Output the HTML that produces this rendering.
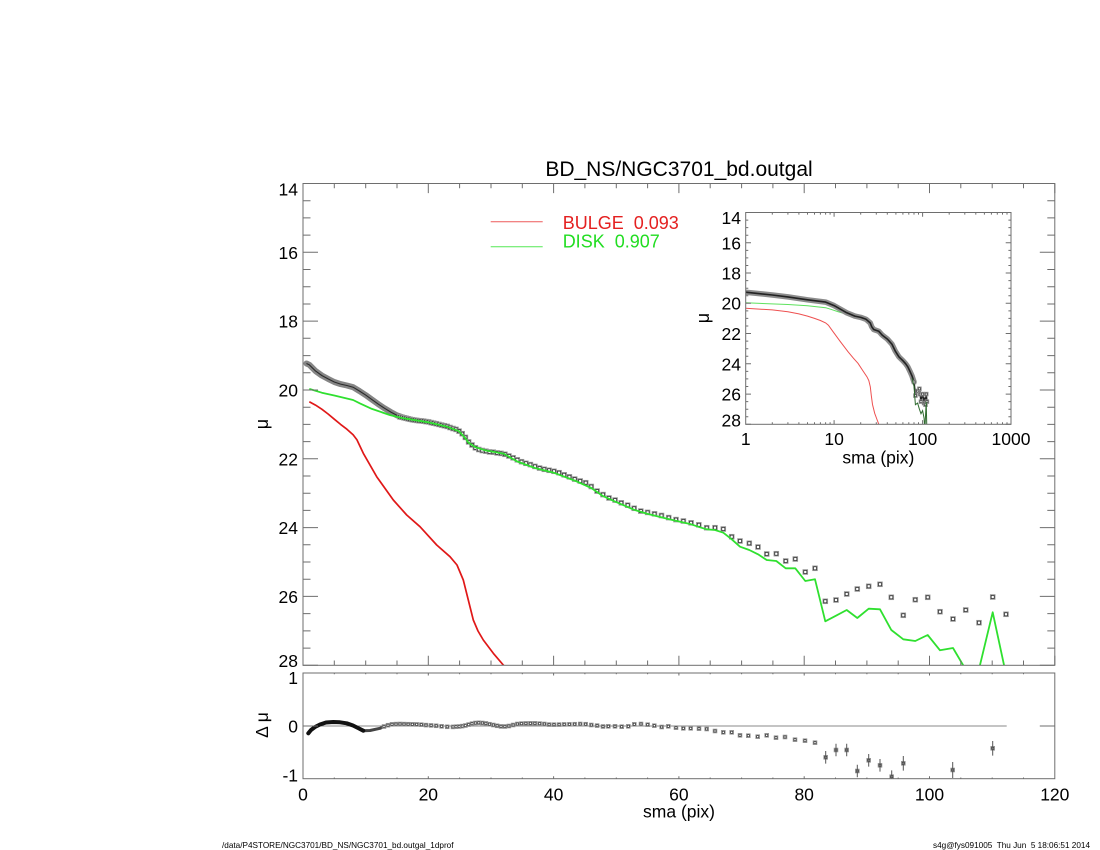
<!DOCTYPE html>
<html><head><meta charset="utf-8"><style>
html,body{margin:0;padding:0;background:#fff;}
svg{display:block;}
text{font-family:"Liberation Sans",Arial,sans-serif;fill:#000;}
</style></head><body>
<svg width="1100" height="850" viewBox="0 0 1100 850" xmlns="http://www.w3.org/2000/svg">
<defs>
<clipPath id="cm"><rect x="303" y="183.5" width="751.8" height="481.8"/></clipPath>
<clipPath id="ci"><rect x="745.7" y="212.5" width="265.3" height="211.8"/></clipPath>
<clipPath id="cr"><rect x="303" y="673" width="751.8" height="105.7"/></clipPath>
<marker id="sq" markerWidth="8" markerHeight="8" refX="4" refY="4" markerUnits="userSpaceOnUse" overflow="visible">
<rect x="1.25" y="1.25" width="5.5" height="5.5" fill="#969696"/>
<rect x="2.5" y="2.5" width="3" height="3" fill="#fff" stroke="#2a2a2a" stroke-width="0.7"/>
</marker>
<marker id="sqs" markerWidth="8" markerHeight="8" refX="4" refY="4" markerUnits="userSpaceOnUse" overflow="visible">
<rect x="1.75" y="1.75" width="4.5" height="4.5" fill="#8e8e8e"/>
<rect x="3" y="3" width="2" height="2" fill="#fff" stroke="#333" stroke-width="0.6"/>
</marker>
</defs>
<rect width="1100" height="850" fill="#fff"/>

<!-- Title -->
<text x="679" y="176" font-size="21" text-anchor="middle">BD_NS/NGC3701_bd.outgal</text>

<!-- ===== MAIN PLOT ===== -->
<g clip-path="url(#cm)">
<polyline fill="none" stroke="#858585" stroke-width="6" stroke-linejoin="round" stroke-linecap="round" points="306.5,363.5 309.3,364.8 315.5,371.0 321.8,375.5 328.1,378.9 334.3,382.0 340.6,384.1 346.9,385.5 353.1,387.2 359.4,391.0 365.7,395.1 371.9,399.6 378.2,404.1 384.4,408.2 390.7,412.0 397.0,415.4 403.2,417.5 409.5,419.0"/>
<polyline fill="none" stroke="#2a2a2a" stroke-width="1.1" points="306.5,363.5 309.3,364.8 315.5,371.0 321.8,375.5 328.1,378.9 334.3,382.0 340.6,384.1 346.9,385.5 353.1,387.2 359.4,391.0 365.7,395.1 371.9,399.6 378.2,404.1 384.4,408.2 390.7,412.0 397.0,415.4 403.2,417.5 409.5,419.0"/>
<polyline fill="none" stroke="none" marker-start="url(#sq)" marker-mid="url(#sq)" marker-end="url(#sq)" points="400.0,416.9 402.0,417.3 404.0,417.8 406.0,418.3 408.1,418.8 410.1,419.3 412.3,419.7 414.5,420.1 416.7,420.4 419.0,420.7 421.3,420.9 423.7,421.2 426.0,421.6 428.6,421.9 431.1,422.6 433.6,423.2 436.2,423.7 438.9,424.4 441.6,425.1 444.3,425.7 447.2,426.4 450.0,427.5 453.0,428.5 456.0,429.4 459.1,431.2 462.2,433.7 465.4,437.4 468.6,441.9 472.0,445.0 475.4,447.8 478.8,449.5 482.3,450.5 485.9,451.2 489.5,451.9 493.3,452.2 497.1,452.9 501.0,453.4 504.9,454.3 508.9,456.0 513.1,457.8 517.3,459.8 521.5,461.7 525.9,463.3 530.4,464.6 534.9,466.4 539.6,468.1 544.3,469.3 549.1,470.3 554.0,471.3 559.1,472.7 564.2,474.8 569.4,476.8 574.7,479.1 580.2,481.0 585.7,482.7 591.3,486.5 597.1,491.1 603.0,494.6 609.0,498.0 615.1,500.1 621.3,502.8 627.7,505.2 634.2,508.3 640.8,511.1 647.6,512.4 654.5,513.8 661.5,515.5 668.7,517.6 676.0,519.6 683.4,521.0 691.1,522.8 698.8,524.8 706.7,527.7 715,527.7 723.3,529 731.7,536.7 740,541 749.3,543.3 758,547 766.7,554 776.3,553.7 785.7,561 795.3,559 805.3,572 815,568.3 825.3,601.3 836,600 846.7,594 857.3,589 868.7,586.3 880,584.3 891.3,597.3 903.3,615.3 915.3,599.7 927.7,597.3 940,611.7 953,619 965.7,610 979,622.7 992.7,597 1006,614.3"/>
<polyline fill="none" stroke="#2fe02f" stroke-width="1.8" stroke-linejoin="round" points="309.3,388.9 321.8,392.7 334.3,395.5 353.1,400.0 360.0,403.4 371.9,408.9 390.1,415.1 403.2,418.2 428.3,422.3 447.1,426.8 459.0,431.2 465.3,438.1 468.4,442.6 475.3,447.1 484.7,450.2 503.5,453.6 517.3,461.5 534.9,468.0 554.0,472.8 574.7,480.6 591.3,488.0 603.0,496.1 615.1,501.6 634.2,509.8 647.6,513.9 668.7,519.1 691.1,524.3 700,527.3 706.7,529.3 715,530 723.3,532.7 731.7,539.3 740,546.7 749.3,550 758,554.3 766.7,560 776.3,561 785.7,568.3 795.3,568.3 805.3,581 815,579.3 825.3,621.3 836,615.7 846.7,610 857.3,618 868.7,608.7 880,609.3 891.3,630 903.3,639.3 915.3,641 927.7,635 940,650.3 953,648 965.7,669.5 978.6,670.8 992.7,612.3 1006,674.3"/>
<polyline fill="none" stroke="#e01818" stroke-width="1.7" stroke-linejoin="round" points="309.3,401.7 315.5,405.1 321.8,409.2 328.1,414.0 334.3,419.2 340.6,424.4 346.9,429.2 353.1,434.7 356.9,439.8 363.3,453.3 376.7,476.7 393.3,500 406.7,515 420,526.7 436.7,545 450,556.7 457,565 463.3,580 468.3,600 473.3,620 478,631 483.3,640 493.3,653.3 503.3,665 505,667"/>
</g>
<!-- main frame & ticks -->
<g stroke="#6e6e6e" stroke-width="1" fill="none">
<rect x="303" y="183.5" width="751.8" height="481.8"/>
<path d="M303 183.5h15M303 252.3h15M303 321.1h15M303 390h15M303 458.8h15M303 527.6h15M303 596.4h15M303 665.3h15
M1054.8 183.5h-15M1054.8 252.3h-15M1054.8 321.1h-15M1054.8 390h-15M1054.8 458.8h-15M1054.8 527.6h-15M1054.8 596.4h-15M1054.8 665.3h-15
M303 200.7h7.5M303 217.9h7.5M303 235.1h7.5M303 269.5h7.5M303 286.7h7.5M303 304h7.5M303 338.3h7.5M303 355.6h7.5M303 372.8h7.5M303 407.2h7.5M303 424.4h7.5M303 441.6h7.5M303 476h7.5M303 493.2h7.5M303 510.4h7.5M303 544.8h7.5M303 562h7.5M303 579.2h7.5M303 613.6h7.5M303 630.9h7.5M303 648.1h7.5
M1054.8 200.7h-7.5M1054.8 217.9h-7.5M1054.8 235.1h-7.5M1054.8 269.5h-7.5M1054.8 286.7h-7.5M1054.8 304h-7.5M1054.8 338.3h-7.5M1054.8 355.6h-7.5M1054.8 372.8h-7.5M1054.8 407.2h-7.5M1054.8 424.4h-7.5M1054.8 441.6h-7.5M1054.8 476h-7.5M1054.8 493.2h-7.5M1054.8 510.4h-7.5M1054.8 544.8h-7.5M1054.8 562h-7.5M1054.8 579.2h-7.5M1054.8 613.6h-7.5M1054.8 630.9h-7.5M1054.8 648.1h-7.5
M303 183.5v9.6M428.3 183.5v9.6M553.6 183.5v9.6M678.9 183.5v9.6M804.2 183.5v9.6M929.5 183.5v9.6M1054.8 183.5v9.6
M303 665.3v-9.6M428.3 665.3v-9.6M553.6 665.3v-9.6M678.9 665.3v-9.6M804.2 665.3v-9.6M929.5 665.3v-9.6M1054.8 665.3v-9.6
M334.3 183.5v4.8M365.7 183.5v4.8M397 183.5v4.8M459.6 183.5v4.8M491 183.5v4.8M522.3 183.5v4.8M584.9 183.5v4.8M616.3 183.5v4.8M647.6 183.5v4.8M710.2 183.5v4.8M741.6 183.5v4.8M772.9 183.5v4.8M835.5 183.5v4.8M866.9 183.5v4.8M898.2 183.5v4.8M960.8 183.5v4.8M992.2 183.5v4.8M1023.5 183.5v4.8
M334.3 665.3v-4.8M365.7 665.3v-4.8M397 665.3v-4.8M459.6 665.3v-4.8M491 665.3v-4.8M522.3 665.3v-4.8M584.9 665.3v-4.8M616.3 665.3v-4.8M647.6 665.3v-4.8M710.2 665.3v-4.8M741.6 665.3v-4.8M772.9 665.3v-4.8M835.5 665.3v-4.8M866.9 665.3v-4.8M898.2 665.3v-4.8M960.8 665.3v-4.8M992.2 665.3v-4.8M1023.5 665.3v-4.8"/>
</g>
<g font-size="17.5" text-anchor="end">
<text x="298" y="195.5">14</text>
<text x="298" y="258.8">16</text>
<text x="298" y="327.6">18</text>
<text x="298" y="396.5">20</text>
<text x="298" y="465.3">22</text>
<text x="298" y="534.1">24</text>
<text x="298" y="602.9">26</text>
<text x="298" y="667.2">28</text>
</g>
<text font-size="18" text-anchor="middle" transform="translate(268,424) rotate(-90)">μ</text>

<!-- Legend -->
<line x1="490.7" y1="221.7" x2="542.7" y2="221.7" stroke="#ee5a5a" stroke-width="1"/>
<line x1="490.7" y1="246.7" x2="542.7" y2="246.7" stroke="#55e855" stroke-width="1"/>
<text x="562.7" y="229" font-size="18" style="fill:#e42020" xml:space="preserve">BULGE  0.093</text>
<text x="562.7" y="247.5" font-size="18" style="fill:#22dd22" xml:space="preserve">DISK  0.907</text>

<!-- ===== INSET ===== -->
<rect x="745.7" y="212.5" width="265.3" height="211.8" fill="#fff"/>
<g clip-path="url(#ci)">
<polyline fill="none" stroke="#5ee25e" stroke-width="1" points="745.7,302.8 787.9,304.5 807.5,305.7 825.6,307.7 830.5,309.2 837.8,311.6 846.8,314.3 852.2,315.7 860.8,317.5 869.3,321.4"/>
<polyline fill="none" stroke="#8c8c8c" stroke-width="5.5" stroke-linejoin="round" stroke-linecap="round" points="745.7,292.2 772.3,295.0 787.9,296.9 807.5,299.8 825.6,302.1 834.1,305.6 846.8,312.8 854.8,316.1 860.8,317.4 866.1,319.3 870.3,323.0 871.7,326.7 873.7,329.5 878.8,331.3 882.2,335.1 887.4,339.1 891.9,344.1 895.2,350.9 898.9,356.8 903.0,360.8 905.7,363.8 907.8,366.8 910.0,371.4 912.0,375.9 914.0,382.0"/>
<polyline fill="none" stroke="#222" stroke-width="1.6" stroke-linejoin="round" points="745.7,292.2 772.3,295.0 787.9,296.9 807.5,299.8 825.6,302.1 834.1,305.6 846.8,312.8 854.8,316.1 860.8,317.4 866.1,319.3 870.3,323.0 871.7,326.7 873.7,329.5 878.8,331.3 882.2,335.1 887.4,339.1 891.9,344.1 895.2,350.9 898.9,356.8 903.0,360.8 905.7,363.8 907.8,366.8 910.0,371.4 912.0,375.9 914.0,382.0 915.4,395.6 916.5,393 917.6,391.0 918.5,389.5 919.4,388.8 920.2,394.1 921.0,401.6 921.8,395 922.6,394.1 923.4,399 924.1,403.1 924.8,398 925.5,404.7 926.2,394.1 926.9,401.6"/>
<polyline fill="none" stroke="none" marker-start="url(#sqs)" marker-mid="url(#sqs)" marker-end="url(#sqs)" points="914.0,382.0 915.4,395.6 917.6,391.0 919.4,388.8 920.2,394.1 921.0,401.6 922.6,394.1 924.1,403.1 925.5,404.7 926.2,394.1 926.9,401.6"/>
<polyline fill="none" stroke="#2f6b2f" stroke-width="1" points="912.0,378.2 914.0,386.5 915.4,404.7 917.6,403.1 919.4,409.2 921.0,413.7 922.6,410.6 924.1,418.3 924.8,431 926.2,401.6 926.9,431"/>
<polyline fill="none" stroke="#ee5050" stroke-width="1" points="745.7,308.3 772.3,309.9 787.9,311.8 798.9,313.9 807.5,316.1 814.5,318.4 820.4,320.5 825.6,322.9 828.4,325.2 832.6,331.1 840.2,341.4 848.0,351.7 853.4,358.2 858.0,363.3 863.3,371.4 866.9,376.7 868.8,380.5 870.3,386.8 871.3,395.6 872.5,404.5 874.7,413.3 876.8,419.0 878.8,424.3 879.5,426"/>
</g>
<g stroke="#6e6e6e" stroke-width="1" fill="none">
<rect x="745.7" y="212.5" width="265.3" height="211.8"/>
<path d="M745.7 212.5h5.3M745.7 242.8h5.3M745.7 273h5.3M745.7 303.3h5.3M745.7 333.5h5.3M745.7 363.8h5.3M745.7 394.1h5.3M745.7 424.3h5.3
M1011 212.5h-5.3M1011 242.8h-5.3M1011 273h-5.3M1011 303.3h-5.3M1011 333.5h-5.3M1011 363.8h-5.3M1011 394.1h-5.3M1011 424.3h-5.3
M745.7 220.1h2.6M745.7 227.6h2.6M745.7 235.2h2.6M745.7 250.4h2.6M745.7 257.9h2.6M745.7 265.5h2.6M745.7 280.6h2.6M745.7 288.2h2.6M745.7 295.7h2.6M745.7 310.9h2.6M745.7 318.4h2.6M745.7 326h2.6M745.7 341.1h2.6M745.7 348.7h2.6M745.7 356.2h2.6M745.7 371.4h2.6M745.7 378.9h2.6M745.7 386.5h2.6M745.7 401.6h2.6M745.7 409.2h2.6M745.7 416.7h2.6
M1011 220.1h-2.6M1011 227.6h-2.6M1011 235.2h-2.6M1011 250.4h-2.6M1011 257.9h-2.6M1011 265.5h-2.6M1011 280.6h-2.6M1011 288.2h-2.6M1011 295.7h-2.6M1011 310.9h-2.6M1011 318.4h-2.6M1011 326h-2.6M1011 341.1h-2.6M1011 348.7h-2.6M1011 356.2h-2.6M1011 371.4h-2.6M1011 378.9h-2.6M1011 386.5h-2.6M1011 401.6h-2.6M1011 409.2h-2.6M1011 416.7h-2.6
M834.1 212.5v4.2M922.6 212.5v4.2M834.1 424.3v-4.2M922.6 424.3v-4.2
M772.3 212.5v2.1M787.9 212.5v2.1M798.9 212.5v2.1M807.5 212.5v2.1M814.5 212.5v2.1M820.4 212.5v2.1M825.6 212.5v2.1M830.1 212.5v2.1M860.7 212.5v2.1M876.3 212.5v2.1M887.3 212.5v2.1M895.9 212.5v2.1M902.9 212.5v2.1M908.8 212.5v2.1M914 212.5v2.1M918.5 212.5v2.1M949.2 212.5v2.1M964.8 212.5v2.1M975.8 212.5v2.1M984.4 212.5v2.1M991.4 212.5v2.1M997.3 212.5v2.1M1002.5 212.5v2.1M1007 212.5v2.1
M772.3 424.3v-2.1M787.9 424.3v-2.1M798.9 424.3v-2.1M807.5 424.3v-2.1M814.5 424.3v-2.1M820.4 424.3v-2.1M825.6 424.3v-2.1M830.1 424.3v-2.1M860.7 424.3v-2.1M876.3 424.3v-2.1M887.3 424.3v-2.1M895.9 424.3v-2.1M902.9 424.3v-2.1M908.8 424.3v-2.1M914 424.3v-2.1M918.5 424.3v-2.1M949.2 424.3v-2.1M964.8 424.3v-2.1M975.8 424.3v-2.1M984.4 424.3v-2.1M991.4 424.3v-2.1M997.3 424.3v-2.1M1002.5 424.3v-2.1M1007 424.3v-2.1"/>
</g>
<g font-size="17.5" text-anchor="end">
<text x="741" y="224">14</text>
<text x="741" y="249.6">16</text>
<text x="741" y="279.3">18</text>
<text x="741" y="309.6">20</text>
<text x="741" y="339.8">22</text>
<text x="741" y="370.3">24</text>
<text x="741" y="400.4">26</text>
<text x="741" y="426.3">28</text>
</g>
<g font-size="17.5" text-anchor="middle">
<text x="745.7" y="445">1</text>
<text x="834.1" y="445">10</text>
<text x="922.6" y="445">100</text>
<text x="1011" y="445">1000</text>
<text x="878.4" y="463.5">sma (pix)</text>
</g>
<text font-size="18" text-anchor="middle" transform="translate(709,318) rotate(-90)">μ</text>

<!-- ===== RESIDUAL PANEL ===== -->
<line x1="303" y1="726" x2="1006.7" y2="726" stroke="#8a8a8a" stroke-width="1"/>
<g clip-path="url(#cr)">
<polyline fill="none" stroke="#444" stroke-width="3" stroke-linejoin="round" stroke-linecap="round" points="360,729.5 363.3,730.7 370,730.5 380,728.3 387,725.5 393.3,724 398,723.8"/>
<polyline fill="none" stroke="none" marker-start="url(#sqs)" marker-mid="url(#sqs)" marker-end="url(#sqs)" points="384,726.5 388,725.2 392,724.3 396,724.1 400.0,724.0 404.0,724.1 408.1,724.2 412.3,724.3 416.7,724.4 421.3,724.7 426.0,725.1 431.1,725.4 436.2,725.8 441.6,726.3 447.2,726.8 453.0,726.9 456.0,726.7 459.1,726.5 462.2,726.1 465.4,725.5 468.6,724.6 472.0,723.7 475.4,723.0 478.8,722.8 482.3,723.0 485.9,723.4 489.5,724.2 493.3,725.0 497.1,725.8 501.0,726.4 504.9,726.5 508.9,726.0 513.1,725.0 517.3,724.0 521.5,723.6 525.9,723.4 530.4,723.3 534.9,723.3 539.6,723.6 544.3,724.0 549.1,724.6 554.0,724.7 559.1,724.6 564.2,724.4 569.4,724.3 574.7,724.2 580.2,724.0 585.7,724.2 591.3,725.0 597.1,725.6 603.0,726.5 608.3,726.3 615,726.3 621.7,726.7 628.3,726.3 634.3,724.3 641,724 647.7,724.7 654.3,725.7 661.7,727 668.3,726.3 676,727.7 683.3,728.3 690.7,728.3 699,728.7 706.7,729 715,731 723.3,732.3 731.7,732.3 740,735.3 748.3,735.7 757.7,736.7 766.7,735.3 776,737.7 785,737 795,739.7 805,740.7 815,742.7 825.7,757.3 836,750 846.7,750 857.3,771 868.7,760.3 880,765.3 891.7,776.7 903.3,763.3 952.7,770 992.7,748.3"/>
<polyline fill="none" stroke="#111" stroke-width="4" stroke-linejoin="round" stroke-linecap="round" points="308.3,733.3 311,730 315,727 320,724.5 326,722.5 333.3,722 340,722.3 346.7,723.3 353,725.5 358,728 363.3,730.7"/>
<path fill="none" stroke="#555" stroke-width="1" d="M825.7 751v12.6M836 743.7v12.6M846.7 743.7v12.6M857.3 764.7v12.6M868.7 754v12.6M880 759v12.6M891.7 770.4v12.6M903.3 756v14.6M952.7 762v16M992.7 741v14.6"/>
</g>
<g stroke="#6e6e6e" stroke-width="1" fill="none">
<rect x="303" y="673" width="751.8" height="105.7"/>
<path d="M303 726h15M1054.8 726h-15
M428.3 673v2.5M553.6 673v2.5M678.9 673v2.5M804.2 673v2.5M929.5 673v2.5
M428.3 778.7v-2.5M553.6 778.7v-2.5M678.9 778.7v-2.5M804.2 778.7v-2.5M929.5 778.7v-2.5
M334.3 673v1.2M365.7 673v1.2M397 673v1.2M459.6 673v1.2M491 673v1.2M522.3 673v1.2M584.9 673v1.2M616.3 673v1.2M647.6 673v1.2M710.2 673v1.2M741.6 673v1.2M772.9 673v1.2M835.5 673v1.2M866.9 673v1.2M898.2 673v1.2M960.8 673v1.2M992.2 673v1.2M1023.5 673v1.2
M334.3 778.7v-1.2M365.7 778.7v-1.2M397 778.7v-1.2M459.6 778.7v-1.2M491 778.7v-1.2M522.3 778.7v-1.2M584.9 778.7v-1.2M616.3 778.7v-1.2M647.6 778.7v-1.2M710.2 778.7v-1.2M741.6 778.7v-1.2M772.9 778.7v-1.2M835.5 778.7v-1.2M866.9 778.7v-1.2M898.2 778.7v-1.2M960.8 778.7v-1.2M992.2 778.7v-1.2M1023.5 778.7v-1.2"/>
</g>
<g font-size="17.5" text-anchor="end">
<text x="298" y="684.2">1</text>
<text x="298" y="732.5">0</text>
<text x="298" y="781.5">-1</text>
</g>
<text font-size="17.5" text-anchor="middle" transform="translate(268,725) rotate(-90)">Δ μ</text>
<g font-size="17.5" text-anchor="middle">
<text x="303" y="800.5">0</text>
<text x="428.3" y="800.5">20</text>
<text x="553.6" y="800.5">40</text>
<text x="678.9" y="800.5">60</text>
<text x="804.2" y="800.5">80</text>
<text x="929.5" y="800.5">100</text>
<text x="1054.8" y="800.5">120</text>
<text x="679" y="817.5">sma (pix)</text>
</g>

<!-- Footer -->
<text x="222" y="848" font-size="8.2">/data/P4STORE/NGC3701/BD_NS/NGC3701_bd.outgal_1dprof</text>
<text x="933" y="848" font-size="8.2" xml:space="preserve">s4g@fys091005  Thu Jun  5 18:06:51 2014</text>
</svg>
</body></html>
